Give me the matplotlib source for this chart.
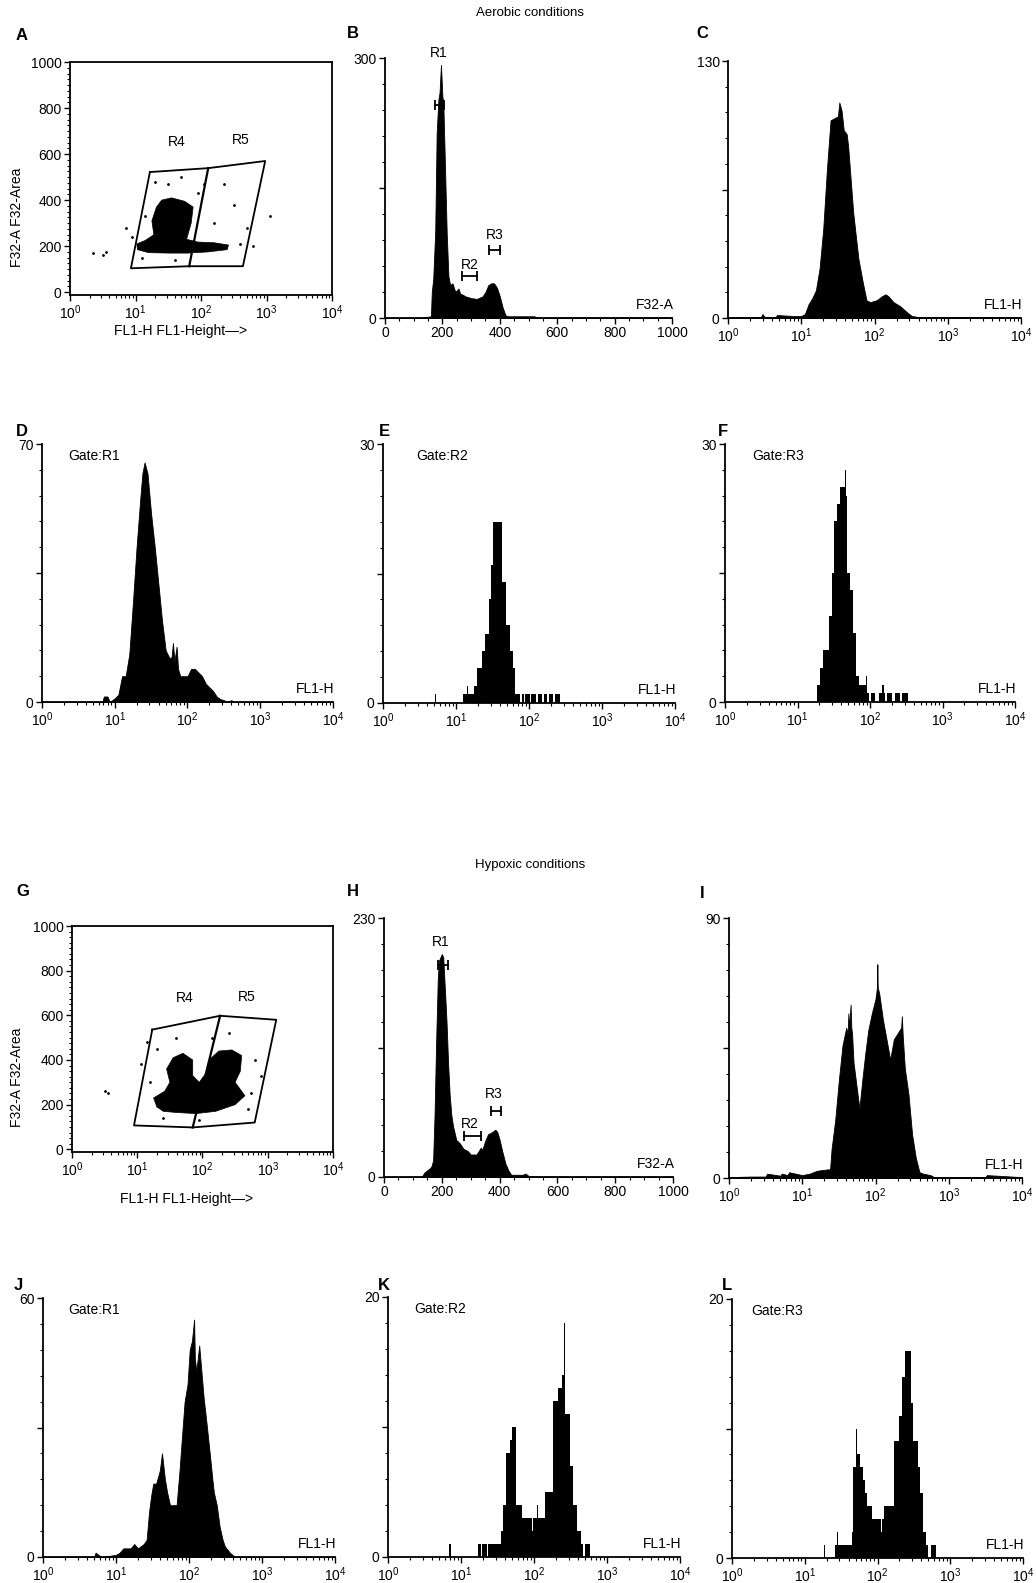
import numpy as np
import matplotlib
matplotlib.use("Agg")
import matplotlib.pyplot as plt
from matplotlib.ticker import MultipleLocator, FixedLocator

plt.rcParams['font.family'] = ['Liberation Sans', 'DejaVu Sans']
plt.rcParams['mathtext.fontset'] = 'custom'
plt.rcParams['mathtext.rm'] = 'Liberation Sans'

# ===== DATA =====
# A / G : dot plots, FL1 (log10 position) vs F32-A
a_gate_lx = [1.22, 2.11, 2.98, 2.64, 1.82, 0.93, 1.22]
a_gate_y = [522, 539, 570, 113, 113, 104, 522]
a_div_lx = [2.11, 1.82]
a_div_y = [539, 113]
a_blob_lx = [1.02, 1.15, 1.28, 1.25, 1.32, 1.40, 1.55, 1.75, 1.88, 1.85, 1.78, 1.95, 2.20, 2.42, 2.40, 2.10, 1.80, 1.50, 1.20, 1.03]
a_blob_y = [210, 225, 250, 310, 370, 400, 410, 395, 370, 300, 230, 218, 215, 205, 185, 175, 170, 170, 172, 185]
a_dots_lx = [0.35, 0.50, 0.55, 0.85, 1.30, 1.50, 1.70, 2.20, 2.50, 2.70, 3.05, 1.15, 1.10, 1.60, 2.60, 2.80, 1.95, 2.35, 0.95, 2.05]
a_dots_y = [170, 160, 175, 280, 480, 470, 500, 300, 380, 280, 330, 330, 150, 140, 210, 200, 430, 470, 240, 470]

g_gate_lx = [1.23, 2.27, 3.13, 2.80, 1.85, 0.95, 1.23]
g_gate_y = [536, 598, 580, 120, 98, 107, 536]
g_div_lx = [2.27, 1.85]
g_div_y = [598, 98]
g_blob_lx = [1.30, 1.25, 1.42, 1.50, 1.45, 1.55, 1.70, 1.85, 1.85, 1.95, 2.05, 2.10, 2.25, 2.45, 2.60, 2.58, 2.50, 2.65, 2.50, 2.20, 1.90, 1.60, 1.40]
g_blob_y = [190, 230, 260, 300, 360, 410, 430, 400, 330, 300, 340, 400, 440, 445, 420, 350, 300, 240, 200, 170, 160, 165, 170]
g_dots_lx = [0.50, 0.55, 1.30, 1.15, 2.40, 2.80, 2.90, 2.70, 1.20, 1.95, 1.60, 2.15, 1.05, 2.75, 1.40]
g_dots_y = [260, 250, 450, 480, 520, 400, 330, 180, 300, 130, 500, 500, 380, 250, 140]

# B / H : F32-A histograms (linear channel)
b_x = [0, 120, 160, 163, 168, 175, 180, 186, 190, 195, 200, 203, 209, 215, 221, 227, 235, 245, 256, 262, 270, 280, 300, 320, 340, 350, 360, 370, 380, 390, 400, 410, 420, 430, 520, 530, 1000]
b_y = [0, 0, 2, 30, 45, 100, 213, 252, 260, 292, 255, 250, 175, 98, 48, 38, 40, 30, 34, 28, 27, 25, 23, 22, 25, 30, 38, 40, 40, 35, 25, 12, 3, 2, 2, 0.5, 0.5]
h_x = [0, 130, 140, 160, 165, 170, 175, 180, 186, 190, 200, 205, 210, 216, 222, 227, 233, 239, 250, 262, 275, 290, 300, 320, 335, 340, 350, 360, 375, 385, 392, 400, 410, 420, 430, 440, 480, 490, 500, 520, 1000]
h_y = [0, 0, 4, 8, 10, 15, 56, 116, 175, 192, 198, 195, 170, 140, 100, 74, 55, 45, 33, 30, 25, 23, 20, 20, 26, 24, 32, 38, 40, 42, 40, 33, 22, 12, 6, 2, 2, 3, 1, 0.3, 0.3]
b_gates = [("R1", 174, 206, 246, 188, 306), ("R2", 267, 322, 48, 297, 61), ("R3", 363, 399, 79, 381, 96)]
h_gates = [("R1", 187, 221, 188, 196, 209), ("R2", 277, 337, 36, 296, 47), ("R3", 371, 406, 59, 381, 74)]

# C, D, I, J : FL1-H histograms (log10 channel position)
c_lx = [0, 0.3, 0.45, 0.47, 0.5, 0.65, 0.67, 0.9, 1.0, 1.05, 1.1, 1.15, 1.2, 1.25, 1.3, 1.35, 1.4, 1.45, 1.5, 1.52, 1.55, 1.58, 1.62, 1.64, 1.71, 1.78, 1.84, 1.89, 1.94, 2.03, 2.1, 2.15, 2.19, 2.26, 2.35, 2.44, 2.51, 2.6, 3.2, 4.0]
c_y = [0.3, 0.5, 0.5, 2, 0.5, 0.5, 1.5, 1, 1, 2, 7, 10, 14, 25, 45, 75, 100, 101, 102, 109, 105, 95, 93, 87, 53, 30, 18, 9, 8, 9, 11, 12, 11, 8, 6, 3, 1, 0.5, 0.5, 0.3]
d_lx = [0, 0.83, 0.85, 0.9, 0.93, 1.0, 1.05, 1.1, 1.15, 1.2, 1.25, 1.3, 1.35, 1.38, 1.41, 1.45, 1.5, 1.55, 1.6, 1.65, 1.7, 1.75, 1.78, 1.8, 1.82, 1.85, 1.87, 1.9, 2.0, 2.05, 2.1, 2.15, 2.2, 2.25, 2.3, 2.35, 2.4, 2.45, 2.5, 2.55, 2.6, 2.65, 4.0]
d_y = [0, 0, 1.5, 1.5, 0, 1, 2, 7, 7, 13, 27, 42, 55, 62, 65, 62, 51, 42, 32, 22, 14, 12, 12, 16, 11, 15, 9, 7, 7, 9, 9, 8, 7, 5, 4, 3, 1.5, 0.8, 0.5, 0, 0.5, 0, 0]
i_lx = [0, 0.3, 0.5, 0.52, 0.7, 0.72, 0.8, 0.82, 1.0, 1.1, 1.2, 1.35, 1.38, 1.40, 1.45, 1.50, 1.55, 1.60, 1.62, 1.63, 1.64, 1.66, 1.67, 1.68, 1.70, 1.75, 1.78, 1.82, 1.86, 1.90, 1.95, 2.0, 2.02, 2.025, 2.03, 2.05, 2.1, 2.15, 2.2, 2.25, 2.3, 2.35, 2.36, 2.37, 2.4, 2.45, 2.5, 2.55, 2.6, 2.65, 2.75, 2.8, 3.5, 3.52, 4.0]
i_y = [0.3, 0.5, 0.5, 1.5, 0.8, 1.5, 1, 2, 1, 1.5, 2.5, 3, 3, 10, 20, 34, 46, 52, 50, 57, 52, 60, 52, 50, 40, 30, 24, 34, 43, 51, 57, 62, 66, 74, 66, 64, 55, 48, 41, 48, 50, 52, 56, 50, 38, 29, 15, 7, 2, 1.5, 1, 0.3, 0.3, 1, 0.3]
j_lx = [0, 0.7, 0.72, 0.76, 0.8, 1.0, 1.05, 1.1, 1.2, 1.25, 1.3, 1.38, 1.42, 1.45, 1.48, 1.51, 1.55, 1.60, 1.63, 1.67, 1.70, 1.74, 1.83, 1.87, 1.90, 1.94, 1.98, 2.01, 2.04, 2.07, 2.08, 2.10, 2.14, 2.17, 2.20, 2.24, 2.29, 2.32, 2.34, 2.38, 2.42, 2.46, 2.49, 2.56, 2.63, 4.0]
j_y = [0, 0, 1, 0.5, 0, 0.5, 1, 2, 2, 3, 2, 3, 4, 10, 14, 17, 17, 20, 24, 18, 15, 12, 12, 20, 27, 36, 40, 48, 50, 55, 46, 43, 49, 43, 37, 31, 23, 18, 15, 12, 7, 4, 2.5, 1, 0, 0]

# E, F, K, L : gated FL1-H histograms (counts per bin, bin start in log10)
e_lx = [0, 0.71, 0.72, 1.01, 1.02, 1.09, 1.14, 1.15, 1.17, 1.20, 1.24, 1.29, 1.35, 1.40, 1.45, 1.48, 1.50, 1.51, 1.63, 1.68, 1.74, 1.78, 1.81, 1.88, 1.90, 1.93, 1.95, 2.01, 2.03, 2.09, 2.12, 2.18, 2.20, 2.25, 2.27, 2.33, 2.35, 2.42]
e_y = [0, 1, 0, 1, 0, 1, 1, 2, 1, 1, 2, 4, 6, 8, 12, 16, 27, 21, 14, 9, 6, 4, 1, 0, 1, 0, 1, 0, 1, 0, 1, 0, 1, 0, 1, 0, 1, 0]
f_lx = [0, 1.27, 1.31, 1.35, 1.43, 1.47, 1.51, 1.54, 1.58, 1.655, 1.665, 1.68, 1.72, 1.76, 1.81, 1.85, 1.94, 1.96, 1.98, 2.01, 2.05, 2.07, 2.12, 2.15, 2.17, 2.19, 2.21, 2.24, 2.28, 2.31, 2.35, 2.38, 2.41, 2.44, 2.48, 2.52, 2.55]
f_y = [0, 2, 4, 6, 10, 15, 21, 23, 25, 27, 24, 15, 13, 8, 3, 2, 3, 1, 0, 1, 1, 0, 1, 1, 2, 1, 0, 1, 1, 0, 1, 1, 0, 1, 1, 0, 0]
k_lx = [0, 0.84, 0.86, 1.23, 1.27, 1.29, 1.35, 1.37, 1.49, 1.55, 1.58, 1.61, 1.67, 1.70, 1.75, 1.83, 1.90, 1.91, 1.97, 1.98, 2.00, 2.04, 2.05, 2.15, 2.26, 2.33, 2.38, 2.41, 2.42, 2.49, 2.54, 2.59, 2.64, 2.67, 2.70, 2.77]
k_y = [0, 1, 0, 1, 0, 1, 0, 1, 1, 2, 4, 8, 9, 10, 4, 3, 4, 3, 2, 3, 3, 4, 3, 5, 12, 13, 14, 18, 11, 7, 4, 2, 1, 0, 1, 0]
l_lx = [0, 1.27, 1.28, 1.33, 1.34, 1.42, 1.45, 1.46, 1.65, 1.67, 1.70, 1.72, 1.76, 1.80, 1.83, 1.86, 1.92, 1.96, 1.97, 2.00, 2.01, 2.05, 2.06, 2.09, 2.22, 2.29, 2.33, 2.38, 2.46, 2.49, 2.55, 2.58, 2.63, 2.67, 2.70, 2.74, 2.80]
l_y = [0, 1, 0, 1, 0, 1, 2, 1, 2, 7, 10, 8, 7, 6, 5, 4, 3, 2, 3, 2, 3, 2, 3, 4, 9, 11, 14, 16, 12, 9, 7, 5, 2, 1, 0, 1, 0]

# ===== FIGURE =====
W, H = 1036, 1583
fig = plt.figure(figsize=(W / 100, H / 100), dpi=100)


def add_ax(x0, y0, x1, y1):
    return fig.add_axes([x0 / W, 1 - y1 / H, (x1 - x0) / W, (y1 - y0) / H])


def style_hist(ax, top, logx=True):
    for s in ['top', 'right']:
        ax.spines[s].set_visible(False)
    for s in ['left', 'bottom']:
        ax.spines[s].set_linewidth(1.3)
    ax.set_ylim(0, top)
    ax.yaxis.set_major_locator(FixedLocator([0, top / 2, top]))
    ax.set_yticklabels(['0', '', str(top)])
    ax.yaxis.set_minor_locator(MultipleLocator(top / 10))
    if logx:
        ax.set_xscale('log')
        ax.set_xlim(1, 1e4)
    else:
        ax.set_xlim(0, 1000)
        ax.xaxis.set_major_locator(MultipleLocator(200))
        ax.xaxis.set_minor_locator(MultipleLocator(50))
    ax.tick_params(direction='out', length=4, width=1, labelsize=10, pad=2)
    ax.tick_params(which='minor', direction='out', length=2.5, width=0.8)


def style_dot(ax):
    ax.set_xscale('log')
    ax.set_xlim(1, 1e4)
    ax.set_ylim(-12, 1000)
    for s in ax.spines.values():
        s.set_linewidth(1.3)
    ax.yaxis.set_major_locator(MultipleLocator(200))
    ax.yaxis.set_minor_locator(MultipleLocator(25))
    ax.tick_params(direction='out', length=4, width=1, labelsize=10, pad=2)
    ax.tick_params(which='minor', direction='out', length=2.5, width=0.8)


def smooth(ax, lx, y):
    ax.fill_between(10 ** np.array(lx), y, color='k', lw=0.6)


def steps(ax, lx, y):
    ax.fill_between(10 ** np.array(lx), y, step='post', color='k', lw=0)


def dot_panel(ax, blob_lx, blob_y, dots_lx, dots_y, gate_lx, gate_y, div_lx, div_y):
    style_dot(ax)
    ax.fill(10 ** np.array(blob_lx), blob_y, color='k', lw=0.5)
    ax.plot(10 ** np.array(dots_lx), dots_y, 'k.', ms=2)
    ax.plot(10 ** np.array(gate_lx), gate_y, 'k-', lw=1.3)
    ax.plot(10 ** np.array(div_lx), div_y, 'k-', lw=1.6)


def gate_marks(ax, gates):
    for name, x0, x1, yb, xl, yl in gates:
        ax.plot([x0, x1], [yb, yb], 'k-', lw=1.3)
        ax.plot([x0, x1], [yb, yb], 'k|', ms=7, mew=1.3)
        ax.text(xl, yl, name, ha='center', va='center', fontsize=10, clip_on=False)


def corner_texts(ax, gate, xl, xlab):
    if gate:
        ax.text(xl, 0.955, gate, transform=ax.transAxes, fontsize=10, va='center')
    ax.text(1.005, 0.05, xlab, transform=ax.transAxes, fontsize=10, ha='right', va='center')


# --- row 1 ---
axA = add_ax(70, 62, 332, 295)
dot_panel(axA, a_blob_lx, a_blob_y, a_dots_lx, a_dots_y, a_gate_lx, a_gate_y, a_div_lx, a_div_y)
axA.text(10 ** 1.63, 652, 'R4', ha='center', va='center', fontsize=10)
axA.text(10 ** 2.61, 660, 'R5', ha='center', va='center', fontsize=10)

axB = add_ax(385, 58, 672, 318)
style_hist(axB, 300, logx=False)
axB.fill_between(b_x, b_y, color='k', lw=0.6)
gate_marks(axB, b_gates)
corner_texts(axB, None, 0, 'F32-A')

axC = add_ax(728, 61, 1021, 318)
style_hist(axC, 130)
smooth(axC, c_lx, c_y)
corner_texts(axC, None, 0, 'FL1-H')

# --- row 2 ---
axD = add_ax(42, 444, 333, 702)
style_hist(axD, 70)
smooth(axD, d_lx, d_y)
corner_texts(axD, 'Gate:R1', 0.09, 'FL1-H')

axE = add_ax(383, 444, 675, 703)
style_hist(axE, 30)
steps(axE, e_lx, e_y)
corner_texts(axE, 'Gate:R2', 0.115, 'FL1-H')

axF = add_ax(725, 444, 1015, 702)
style_hist(axF, 30)
steps(axF, f_lx, f_y)
corner_texts(axF, 'Gate:R3', 0.095, 'FL1-H')

# --- row 3 ---
axG = add_ax(72, 926, 333, 1152)
dot_panel(axG, g_blob_lx, g_blob_y, g_dots_lx, g_dots_y, g_gate_lx, g_gate_y, g_div_lx, g_div_y)
axG.text(10 ** 1.73, 676, 'R4', ha='center', va='center', fontsize=10)
axG.text(10 ** 2.68, 683, 'R5', ha='center', va='center', fontsize=10)

axH = add_ax(384, 918, 673, 1177)
style_hist(axH, 230, logx=False)
axH.fill_between(h_x, h_y, color='k', lw=0.6)
gate_marks(axH, h_gates)
corner_texts(axH, None, 0, 'F32-A')

axI = add_ax(729, 918, 1022, 1178)
style_hist(axI, 90)
smooth(axI, i_lx, i_y)
corner_texts(axI, None, 0, 'FL1-H')

# --- row 4 ---
axJ = add_ax(43, 1298, 335, 1557)
style_hist(axJ, 60)
smooth(axJ, j_lx, j_y)
corner_texts(axJ, 'Gate:R1', 0.085, 'FL1-H')

axK = add_ax(388, 1297, 680, 1557)
style_hist(axK, 20)
steps(axK, k_lx, k_y)
corner_texts(axK, 'Gate:R2', 0.09, 'FL1-H')

axL = add_ax(732, 1299, 1023, 1558)
style_hist(axL, 20)
steps(axL, l_lx, l_y)
corner_texts(axL, 'Gate:R3', 0.065, 'FL1-H')

# axis labels of the dot plots
for yc in [217, 1077]:
    fig.text(17 / W, 1 - yc / H, 'F32-A F32-Area', rotation=90, ha='center', va='center', fontsize=10)
fig.text(181 / W, 1 - 331 / H, 'FL1-H FL1-Height\u2014>', ha='center', va='center', fontsize=10)
fig.text(187 / W, 1 - 1199 / H, 'FL1-H FL1-Height\u2014>', ha='center', va='center', fontsize=10)

# headings and panel letters
fig.text(530 / W, 1 - 13 / H, 'Aerobic conditions', ha='center', va='center', fontsize=9.5)
fig.text(530 / W, 1 - 865 / H, 'Hypoxic conditions', ha='center', va='center', fontsize=9.5)
letters = [('A', 22, 35), ('B', 353, 33), ('C', 702, 33), ('D', 22, 432), ('E', 384, 432), ('F', 723, 432),
           ('G', 23, 892), ('H', 353, 892), ('I', 702, 893), ('J', 18, 1285), ('K', 384, 1285), ('L', 727, 1285)]
for t, x, y in letters:
    fig.text(x / W, 1 - y / H, t, ha='center', va='center', fontsize=12, fontweight='bold')

fig.savefig('out.png', dpi=100)
